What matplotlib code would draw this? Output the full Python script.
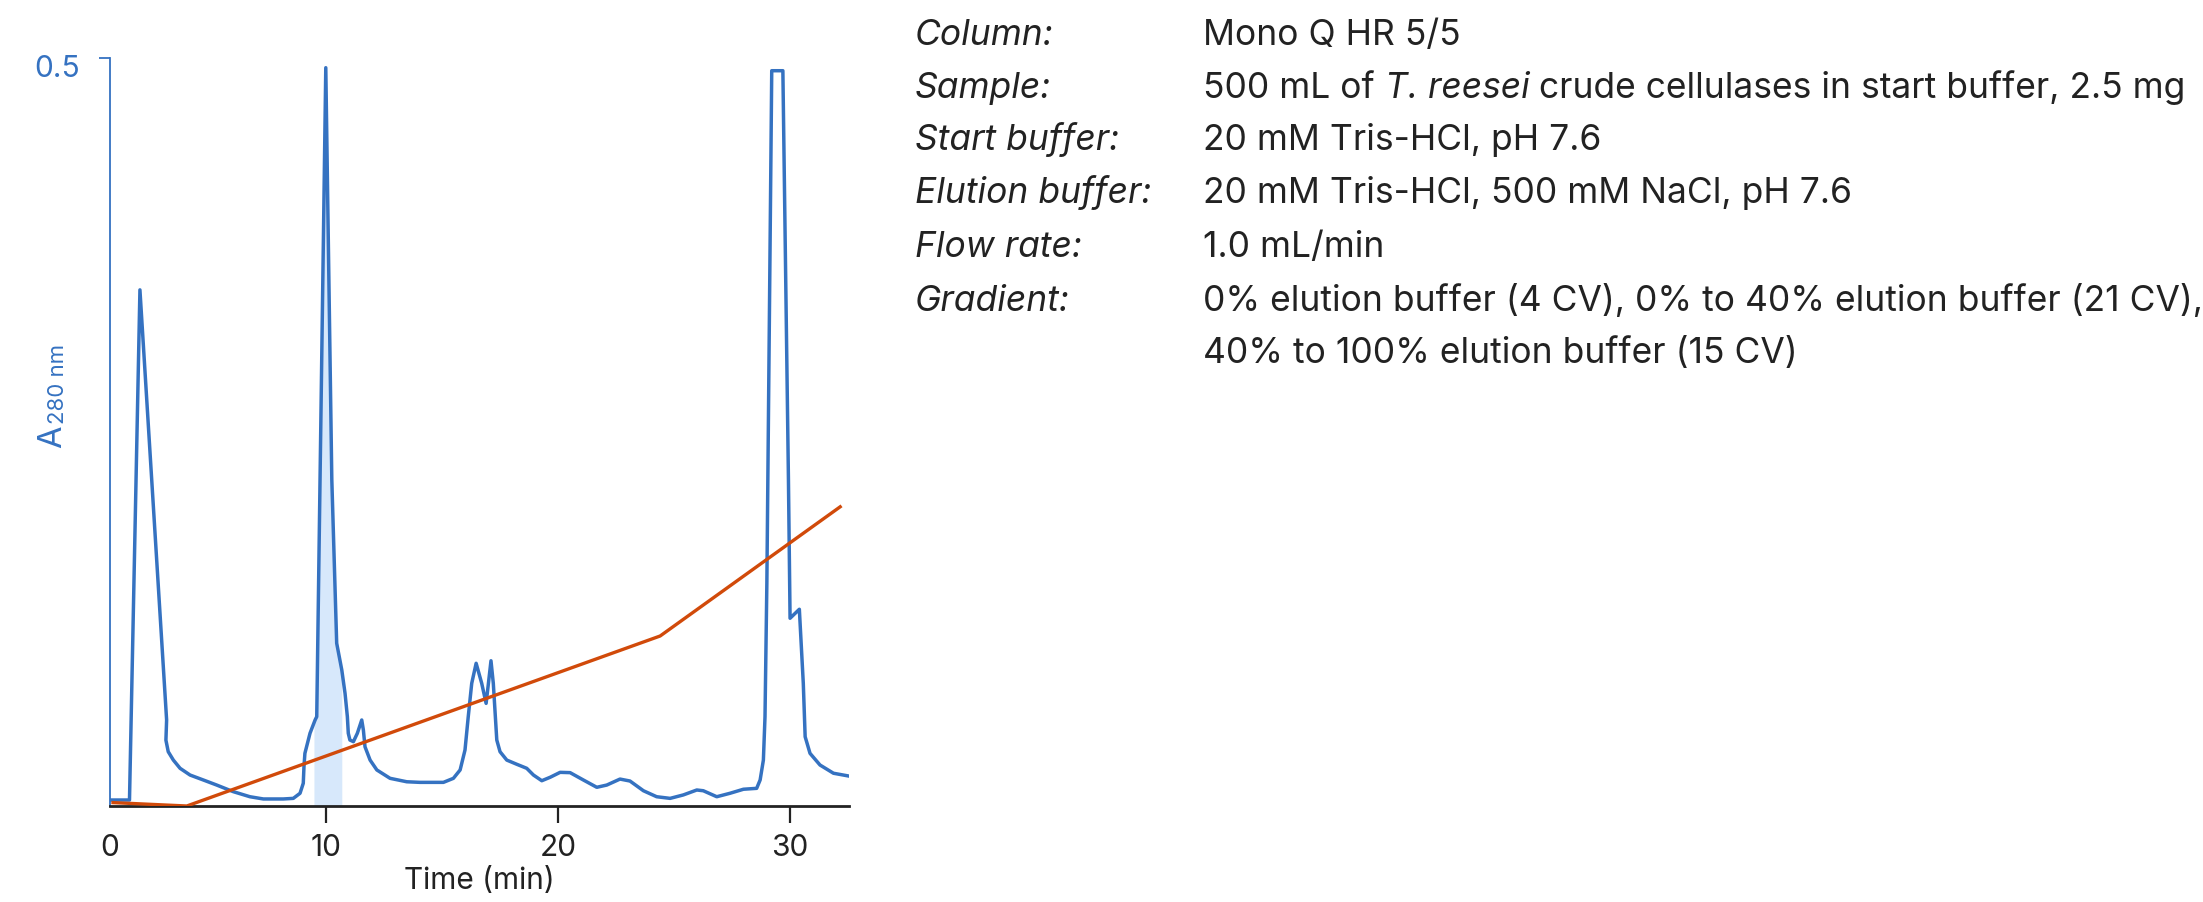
import numpy as np
import matplotlib
matplotlib.use('Agg')
import matplotlib.pyplot as plt
from matplotlib.transforms import ScaledTranslation

plt.rcParams['font.family'] = ['Inter', 'DejaVu Sans']

blue = '#3572c1'
orange = '#d14a0a'
shade = '#d7e8fb'
ink = '#222222'

# A280 trace (min, AU)
time = [0.69, 1.53, 1.98, 3.13, 3.10, 3.20, 3.42, 3.71, 4.14, 4.71, 5.29, 6.00,
        6.72, 7.30, 8.16, 8.59, 8.88, 9.02, 9.05, 9.09, 9.31, 9.53, 9.60, 9.99,
        10.25, 10.46, 10.68, 10.82, 10.92, 10.96, 11.03, 11.18, 11.35, 11.54,
        11.61, 11.68, 11.90, 12.19, 12.76, 13.48, 14.05, 15.06, 15.49, 15.78,
        15.99, 16.13, 16.28, 16.47, 16.71, 16.90, 17.00, 17.11, 17.21, 17.36,
        17.50, 17.79, 18.22, 18.65, 18.94, 19.30, 19.66, 20.09, 20.52, 21.09,
        21.67, 22.10, 22.67, 23.10, 23.68, 24.25, 24.83, 25.40, 25.98, 26.26,
        26.84, 27.41, 27.99, 28.56, 28.71, 28.85, 28.92, 29.00, 29.21, 29.69,
        29.93, 30.00, 30.22, 30.40, 30.57, 30.65, 30.86, 31.29, 31.87, 32.54]
a280 = [0.004, 0.004, 0.345, 0.0575, 0.044, 0.0363, 0.0307, 0.0252, 0.0207,
        0.0174, 0.014, 0.0096, 0.0062, 0.0047, 0.0047, 0.0051, 0.0085, 0.0152,
        0.0263, 0.0352, 0.0486, 0.0575, 0.0597, 0.4935, 0.218, 0.1088, 0.0909,
        0.0753, 0.0597, 0.0486, 0.0441, 0.043, 0.0486, 0.0575, 0.0508, 0.0396,
        0.0307, 0.0241, 0.0185, 0.0162, 0.0158, 0.0158, 0.0185, 0.0241, 0.0374,
        0.0597, 0.082, 0.0954, 0.082, 0.0686, 0.082, 0.0971, 0.082, 0.0441,
        0.0363, 0.0307, 0.0279, 0.0252, 0.0207, 0.0169, 0.0192, 0.0225, 0.0223,
        0.0174, 0.0125, 0.014, 0.018, 0.0167, 0.0102, 0.0062, 0.0051, 0.0074,
        0.0107, 0.0102, 0.0062, 0.0085, 0.0112, 0.0118, 0.0174, 0.0307, 0.0597,
        0.149, 0.4915, 0.4915, 0.218, 0.1255, 0.1288, 0.1315, 0.082, 0.0463,
        0.0352, 0.0274, 0.0219, 0.02]

# gradient, % elution buffer
grad_time = [0.82, 4.0, 24.4, 32.16]
grad_pct = [0.8, 0.0, 40.0, 70.4]

# collected fraction (shaded)
pool_start, pool_end = 9.48, 10.68

x_min, x_max = 0.69, 32.54

labels = ['Column:', 'Sample:', 'Start buffer:', 'Elution buffer:', 'Flow rate:', 'Gradient:', '']
values = ['Mono Q HR 5/5',
          None,
          '20 mM Tris-HCl, pH 7.6',
          '20 mM Tris-HCl, 500 mM NaCl, pH 7.6',
          '1.0 mL/min',
          '0% elution buffer (4 CV), 0% to 40% elution buffer (21 CV),',
          '40% to 100% elution buffer (15 CV)']
sample_runs = [('500 mL of', 'normal'), ('T. reesei', 'italic'),
               ('crude cellulases in start buffer, 2.5 mg', 'normal')]

fs = 21.5       # axis text
fs_info = 25.5  # method details
W, H = 2203, 902

fig = plt.figure(figsize=(W / 100, H / 100), dpi=100)
ax = fig.add_axes([110 / W, 96 / H, 739 / W, 748 / H])

t = np.array(time)
a = np.array(a280)
win = (t > 9) & (t < 11.5)
tw, aw = t[win], a[win]
inside = (tw > pool_start) & (tw < pool_end)
ft = np.concatenate([[pool_start], tw[inside], [pool_end]])
fa = np.concatenate([[np.interp(pool_start, tw, aw)], aw[inside], [np.interp(pool_end, tw, aw)]])
ax.fill_between(ft, 0, fa, color=shade, lw=0, zorder=1)

ax.plot(t, a, color=blue, lw=2.5, solid_joinstyle='round', zorder=2)

ax.set_xlim(x_min, x_max)
ax.set_ylim(0, 0.5)

ax.spines['top'].set_visible(False)
ax.spines['right'].set_visible(False)
ax.spines['left'].set_color(blue)
ax.spines['left'].set_linewidth(1.3)
ax.spines['bottom'].set_color(ink)
ax.spines['bottom'].set_linewidth(2)

ax.set_xticks([x_min, 10, 20, 30], ['0', '10', '20', '30'])
ax.tick_params(axis='x', length=12, width=1.6, colors=ink, labelsize=fs, pad=8)
ax.xaxis.get_major_ticks()[0].tick1line.set_visible(False)
ax.set_xlabel('Time (min)', fontsize=fs, color=ink, labelpad=4)

ax.set_yticks([0.5], ['0.5'])
ax.tick_params(axis='y', length=8, width=1.3, colors=blue, labelsize=fs, pad=14)
for lab in ax.get_yticklabels():
    lab.set_transform(lab.get_transform() + ScaledTranslation(0, -0.08, fig.dpi_scale_trans))

ax2 = ax.twinx()
ax2.plot(grad_time, grad_pct, color=orange, lw=2.4, zorder=3)
ax2.set_ylim(0, 176)
ax2.axis('off')

fig.canvas.draw()
r = fig.canvas.get_renderer()


def width_of(s, size, style='normal'):
    tmp = fig.text(0, 0, s, fontsize=size, style=style)
    w = tmp.get_window_extent(r).width
    tmp.remove()
    return w


# y label: A with subscript "280 nm", rotated
fig.text(61 / W, 1 - 448 / H, 'A', fontsize=23.5, color=blue, rotation=90,
         rotation_mode='anchor', ha='left', va='baseline')
sub_size = 16.5 * 80 / width_of('280 nm', 16.5)
fig.text(64 / W, 1 - 424 / H, '280 nm', fontsize=sub_size, color=blue, rotation=90,
         rotation_mode='anchor', ha='left', va='baseline')

# method details on the right
space = width_of('a a', fs_info) - width_of('aa', fs_info)
rows = [45, 98, 150, 203, 257, 311, 363]
for lab, val, yp in zip(labels, values, rows):
    y = 1 - yp / H
    if lab:
        fig.text(915 / W, y, lab, fontsize=fs_info, style='italic', color=ink, va='baseline')
    if val is not None:
        fig.text(1203 / W, y, val, fontsize=fs_info, color=ink, va='baseline')
    else:
        xp = 1203
        for s, st in sample_runs:
            fig.text(xp / W, y, s, fontsize=fs_info, style=st, color=ink, va='baseline')
            xp += width_of(s, fs_info, st) + space

fig.savefig('out.png', dpi=100)
